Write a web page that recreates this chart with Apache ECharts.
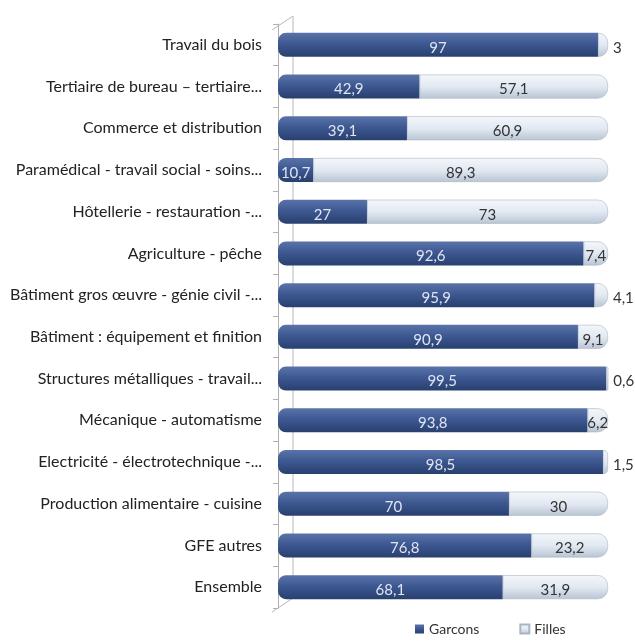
<html>
<head>
<meta charset="utf-8"/>
<title>Garcons / Filles par GFE</title>
<script src="https://cdn.jsdelivr.net/npm/echarts@6/dist/echarts.min.js"></script>
<style>
  html, body { margin: 0; padding: 0; background: #fff; }
  #main { width: 635px; height: 641px; }
</style>
</head>
<body>
<div id="main"></div>
<script type="text/javascript">
    var categories = [
        'Travail du bois',
        'Tertiaire de bureau – tertiaire...',
        'Commerce et distribution',
        'Paramédical - travail social - soins...',
        'Hôtellerie - restauration -...',
        'Agriculture - pêche',
        'Bâtiment gros œuvre - génie civil -...',
        'Bâtiment : équipement et finition',
        'Structures métalliques - travail...',
        'Mécanique - automatisme',
        'Electricité - électrotechnique -...',
        'Production alimentaire - cuisine',
        'GFE autres',
        'Ensemble'
    ];
    var garcons = [97, 42.9, 39.1, 10.7, 27, 92.6, 95.9, 90.9, 99.5, 93.8, 98.5, 70, 76.8, 68.1];
    var filles = [3, 57.1, 60.9, 89.3, 73, 7.4, 4.1, 9.1, 0.6, 6.2, 1.5, 30, 23.2, 31.9];

    function fmt(v) {
        return String(v).replace('.', ',');
    }

    var fillesData = filles.map(function (v) {
        if (v < 5) {
            return {value: v, label: {position: 'right', distance: 5}};
        }
        return v;
    });

    var myChart = echarts.init(document.getElementById('main'));
    var option = {
        animation: false,
        textStyle: {fontFamily: 'Lato, "Open Sans", sans-serif'},
        grid: {left: 278, right: 27, top: 24, bottom: 33},
        legend: {
            bottom: 0,
            left: 410,
            itemWidth: 9,
            itemHeight: 9,
            itemGap: 40,
            icon: 'rect',
            textStyle: {fontSize: 14, color: '#333'},
            data: ['Garcons', 'Filles']
        },
        // 3D-looking frame behind the bars
        graphic: [{
            type: 'polyline',
            shape: {points: [[272, 30], [293, 16], [293, 598], [272, 612]]},
            style: {stroke: '#b8b8b8', lineWidth: 1, fill: null},
            z: -1
        }],
        xAxis: {
            type: 'value',
            min: 0,
            max: 100,
            show: false
        },
        yAxis: {
            type: 'category',
            inverse: true,
            data: categories,
            offset: 6,
            axisLine: {show: true, lineStyle: {color: '#b0b0b0', width: 1}},
            axisTick: {show: true, length: 5, lineStyle: {color: '#b0b0b0'}},
            axisLabel: {fontSize: 16, color: '#222', margin: 10, padding: [10, 0, 0, 0]}
        },
        series: [{
            name: 'Garcons',
            type: 'bar',
            stack: 'total',
            barWidth: 24,
            data: garcons,
            itemStyle: {
                color: new echarts.graphic.LinearGradient(0, 0, 0, 1, [
                    {offset: 0, color: '#5a74aa'},
                    {offset: 0.45, color: '#3e5892'},
                    {offset: 1, color: '#28406f'}
                ]),
                borderRadius: [8, 0, 0, 8]
            },
            label: {
                show: true,
                position: 'inside',
                color: '#dfe5f2',
                fontSize: 15,
                offset: [0, 3],
                formatter: function (p) { return fmt(p.value); }
            }
        }, {
            name: 'Filles',
            type: 'bar',
            stack: 'total',
            barWidth: 24,
            data: fillesData,
            itemStyle: {
                color: new echarts.graphic.LinearGradient(0, 0, 0, 1, [
                    {offset: 0, color: '#f4f7fb'},
                    {offset: 0.5, color: '#e2e9f2'},
                    {offset: 1, color: '#b9c5d4'}
                ]),
                borderColor: '#aab5c3',
                borderWidth: 0.6,
                borderRadius: [0, 10, 10, 0]
            },
            label: {
                show: true,
                position: 'inside',
                color: '#333',
                fontSize: 15,
                offset: [0, 3],
                formatter: function (p) { return fmt(p.value); }
            }
        }]
    };
    myChart.setOption(option);
</script>
</body>
</html>
